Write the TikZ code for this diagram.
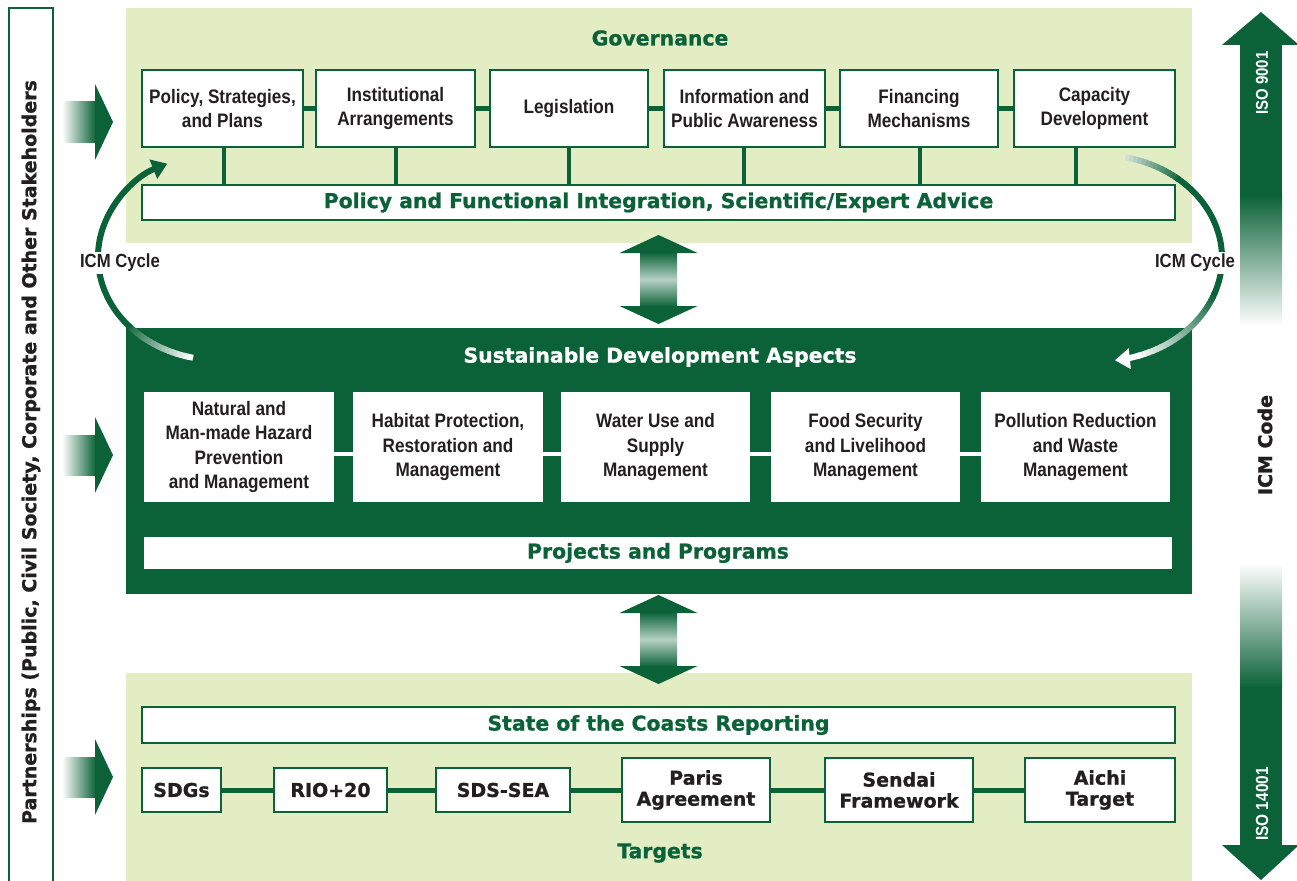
\documentclass[tikz,border=0pt]{standalone}
\usepackage{fontspec}
\setmainfont{Liberation Sans}
\newfontfamily\nfont{Liberation Sans}[FakeStretch=0.88]
\newfontfamily\hfont{DejaVu Sans}[BoldFeatures={FakeBold=1}]
\usetikzlibrary{arrows.meta,calc}
\definecolor{dg}{HTML}{0B6238}
\definecolor{lg}{HTML}{E3EDC3}
\definecolor{tx}{HTML}{231F20}
\tikzset{
  panel/.style={fill=lg},
  gbox/.style={draw=dg, line width=2.5pt, fill=white, text=tx, align=center, inner sep=0pt,
    font=\nfont\bfseries\fontsize{19.5}{24.5}\selectfont},
  sbox/.style={fill=white, text=tx, align=center, inner sep=0pt,
    font=\nfont\bfseries\fontsize{19.5}{24.5}\selectfont},
  bar/.style={draw=dg, line width=2.5pt, fill=white, text=dg, inner sep=0pt,
    font=\hfont\bfseries\fontsize{20.4}{24}\selectfont},
  tbox/.style={draw=dg, line width=2.5pt, fill=white, text=tx, align=center, inner sep=0pt,
    font=\hfont\bfseries\fontsize{19}{21}\selectfont},
  title/.style={font=\hfont\bfseries\fontsize{20.4}{24}\selectfont},
  conn/.style={draw=dg, line width=5pt},
  wconn/.style={draw=white, line width=4pt},
  cyc/.style={fill=white, inner sep=2pt, text=tx, font=\nfont\bfseries\fontsize{19}{22}\selectfont},
}
\begin{document}
\begin{tikzpicture}[x=1pt,y=-1pt]
\useasboundingbox (0,0) rectangle (1297,880);
\fill[white] (0,0) rectangle (1297,880);
% panels
\fill[panel] (126,8) rectangle (1192,243);
\fill[dg] (126,328) rectangle (1192,594);
\fill[panel] (126,673) rectangle (1192,885);
% partnerships box
\draw[dg, line width=2.5pt] (9,8) rectangle (53,895);
\node[rotate=90, text=tx, font=\hfont\bfseries\fontsize{19}{22}\selectfont] (part) at (31,452)
  {Partnerships (Public, Civil Society, Corporate and Other Stakeholders};
% left block arrows
\foreach \yy in {122,455,777}{
  \shade[left color=white, right color=dg] (62,\yy-20) rectangle (96,\yy+20);
  \fill[dg] (95,\yy-38) -- (113,\yy) -- (95,\yy+38) -- cycle;
}
% Governance
\node[title, text=dg] (gov) at (660,38) {Governance};
\node[gbox, minimum width=161pt, minimum height=77pt] (g1) at (222.5,108.5) {Policy, Strategies,\\and Plans};
\node[gbox, minimum width=159pt, minimum height=77pt] (g2) at (395.5,108.5) {Institutional\\Arrangements};
\node[gbox, minimum width=158pt, minimum height=77pt] (g3) at (569,108.5) {Legislation};
\node[gbox, minimum width=161pt, minimum height=77pt] (g4) at (744.5,108.5) {Information and\\Public Awareness};
\node[gbox, minimum width=158pt, minimum height=77pt] (g5) at (919,108.5) {Financing\\Mechanisms};
\node[gbox, minimum width=161pt, minimum height=77pt] (g6) at (1094.5,108.5) {Capacity\\Development};
\node[bar, minimum width=1033pt, minimum height=35pt] (gbar) at (658.5,202.5)
  {Policy and Functional Integration, Scientific/Expert Advice};
\foreach \a/\b in {g1/g2,g2/g3,g3/g4,g4/g5,g5/g6}{
  \draw[conn] (\a.east) -- (\b.west);
}
\foreach \b/\dx in {g1/1,g2/0,g3/0,g4/-1,g5/1,g6/-19}{
  \draw[dg, line width=4pt] ($(\b.south)+(\dx,0)$) -- ($(\b.south |- gbar.north)+(\dx,0)$);
}
% double arrows
\foreach \t/\b in {235/324,595/684}{
  \shade[top color=dg, bottom color=dg, middle color=dg!30!white] (640,\t+17) rectangle (677,\b-17);
  \fill[dg] (619.5,\t+18) -- (658.5,\t) -- (697.5,\t+18) -- cycle;
  \fill[dg] (619.5,\b-18) -- (658.5,\b) -- (697.5,\b-18) -- cycle;
}
% SDA
\node[title, text=white] (sda) at (660,357) {Sustainable Development Aspects};
\node[sbox, minimum width=190pt, minimum height=110pt] (s1) at (239,447) {Natural and\\Man-made Hazard\\Prevention\\and Management};
\node[sbox, minimum width=190pt, minimum height=110pt] (s2) at (448,447) {Habitat Protection,\\Restoration and\\Management};
\node[sbox, minimum width=189pt, minimum height=110pt] (s3) at (655.5,447) {Water Use and\\Supply\\Management};
\node[sbox, minimum width=189pt, minimum height=110pt] (s4) at (865.5,447) {Food Security\\and Livelihood\\Management};
\node[sbox, minimum width=189pt, minimum height=110pt] (s5) at (1075.5,447) {Pollution Reduction\\and Waste\\Management};
\foreach \a/\b in {s1/s2,s2/s3,s3/s4,s4/s5}{
  \draw[wconn] ($(\a.east)+(-1,7)$) -- ($(\b.west)+(1,7)$);
}
\node[bar, draw=none, minimum width=1028pt, minimum height=32pt] (proj) at (658,553) {Projects and Programs};
% Targets
\node[bar, minimum width=1033pt, minimum height=36pt] (soc) at (658.5,725) {State of the Coasts Reporting};
\node[tbox, minimum width=79pt, minimum height=44pt] (t1) at (181.5,790) {SDGs};
\node[tbox, minimum width=113pt, minimum height=44pt] (t2) at (330.5,790) {RIO+20};
\node[tbox, minimum width=134pt, minimum height=44pt] (t3) at (503,790) {SDS-SEA};
\node[tbox, minimum width=148pt, minimum height=64pt] (t4) at (696,790) {Paris\\Agreement};
\node[tbox, minimum width=148pt, minimum height=64pt] (t5) at (899,790) {Sendai\\Framework};
\node[tbox, minimum width=150pt, minimum height=64pt] (t6) at (1100,790) {Aichi\\Target};
\foreach \a/\b in {t1/t2,t2/t3,t3/t4,t4/t5,t5/t6}{
  \draw[conn] (\a.east) -- (\b.west);
}
\node[title, text=dg] (tgt) at (660,853) {Targets};
% right arrows
\fill[dg] (1240,44) rectangle (1282,196);
\shade[top color=dg, bottom color=white] (1240,195) rectangle (1282,326);
\fill[dg] (1222,45) -- (1261,12) -- (1299,45) -- cycle;
\shade[top color=white, bottom color=dg] (1240,563) rectangle (1282,688);
\fill[dg] (1240,687) rectangle (1282,846);
\fill[dg] (1222,845) -- (1261,880) -- (1299,845) -- cycle;
\node[rotate=90, text=white, font=\nfont\bfseries\fontsize{17}{20}\selectfont] (iso1) at (1262,83) {ISO 9001};
\node[rotate=90, text=white, font=\nfont\bfseries\fontsize{17.5}{20}\selectfont] (iso2) at (1262,804) {ISO 14001};
\node[rotate=90, text=tx, font=\hfont\bfseries\fontsize{19}{22}\selectfont] (code) at (1265,445) {ICM Code};
% ICM cycle arcs
% left
\foreach \a [evaluate=\a as \p using {int((\a-102)/36*100)}] in {102,104,...,136}{
  \draw[line width=6pt, color=dg!\p!white] ([shift={(218,257)}]\a:120 and 103)
    arc[start angle=\a, delta angle=2.6, x radius=120, y radius=103];
}
\draw[line width=6pt, dg, -{Triangle[length=15pt,width=20pt]}] ([shift={(218,257)}]137:120 and 103)
    arc[start angle=137, end angle=245, x radius=120, y radius=103];
% right
\foreach \a [evaluate=\a as \p using {int(20+(\a+78)/28*80)}] in {-78,-76,...,-52}{
  \draw[line width=6pt, color=dg!\p!white] ([shift={(1100,258)}]\a:122 and 103)
    arc[start angle=\a, delta angle=2.6, x radius=122, y radius=103];
}
\draw[line width=6pt, dg] ([shift={(1100,258)}]-51:122 and 103)
    arc[start angle=-51, end angle=21, x radius=122, y radius=103];
\foreach \a [evaluate=\a as \p using {int(100-(\a-20)/52*100)}] in {20,22,...,70}{
  \draw[line width=6pt, color=dg!\p!white] ([shift={(1100,258)}]\a:122 and 103)
    arc[start angle=\a, delta angle=2.6, x radius=122, y radius=103];
}
\draw[line width=6pt, white, -{Triangle[length=15pt,width=20pt]}] ([shift={(1100,258)}]71:122 and 103)
    arc[start angle=71, end angle=83, x radius=122, y radius=103];
\node[cyc] (cycL) at (120,263) {ICM Cycle};
\node[cyc] (cycR) at (1195,263) {ICM Cycle};
\end{tikzpicture}
\end{document}
